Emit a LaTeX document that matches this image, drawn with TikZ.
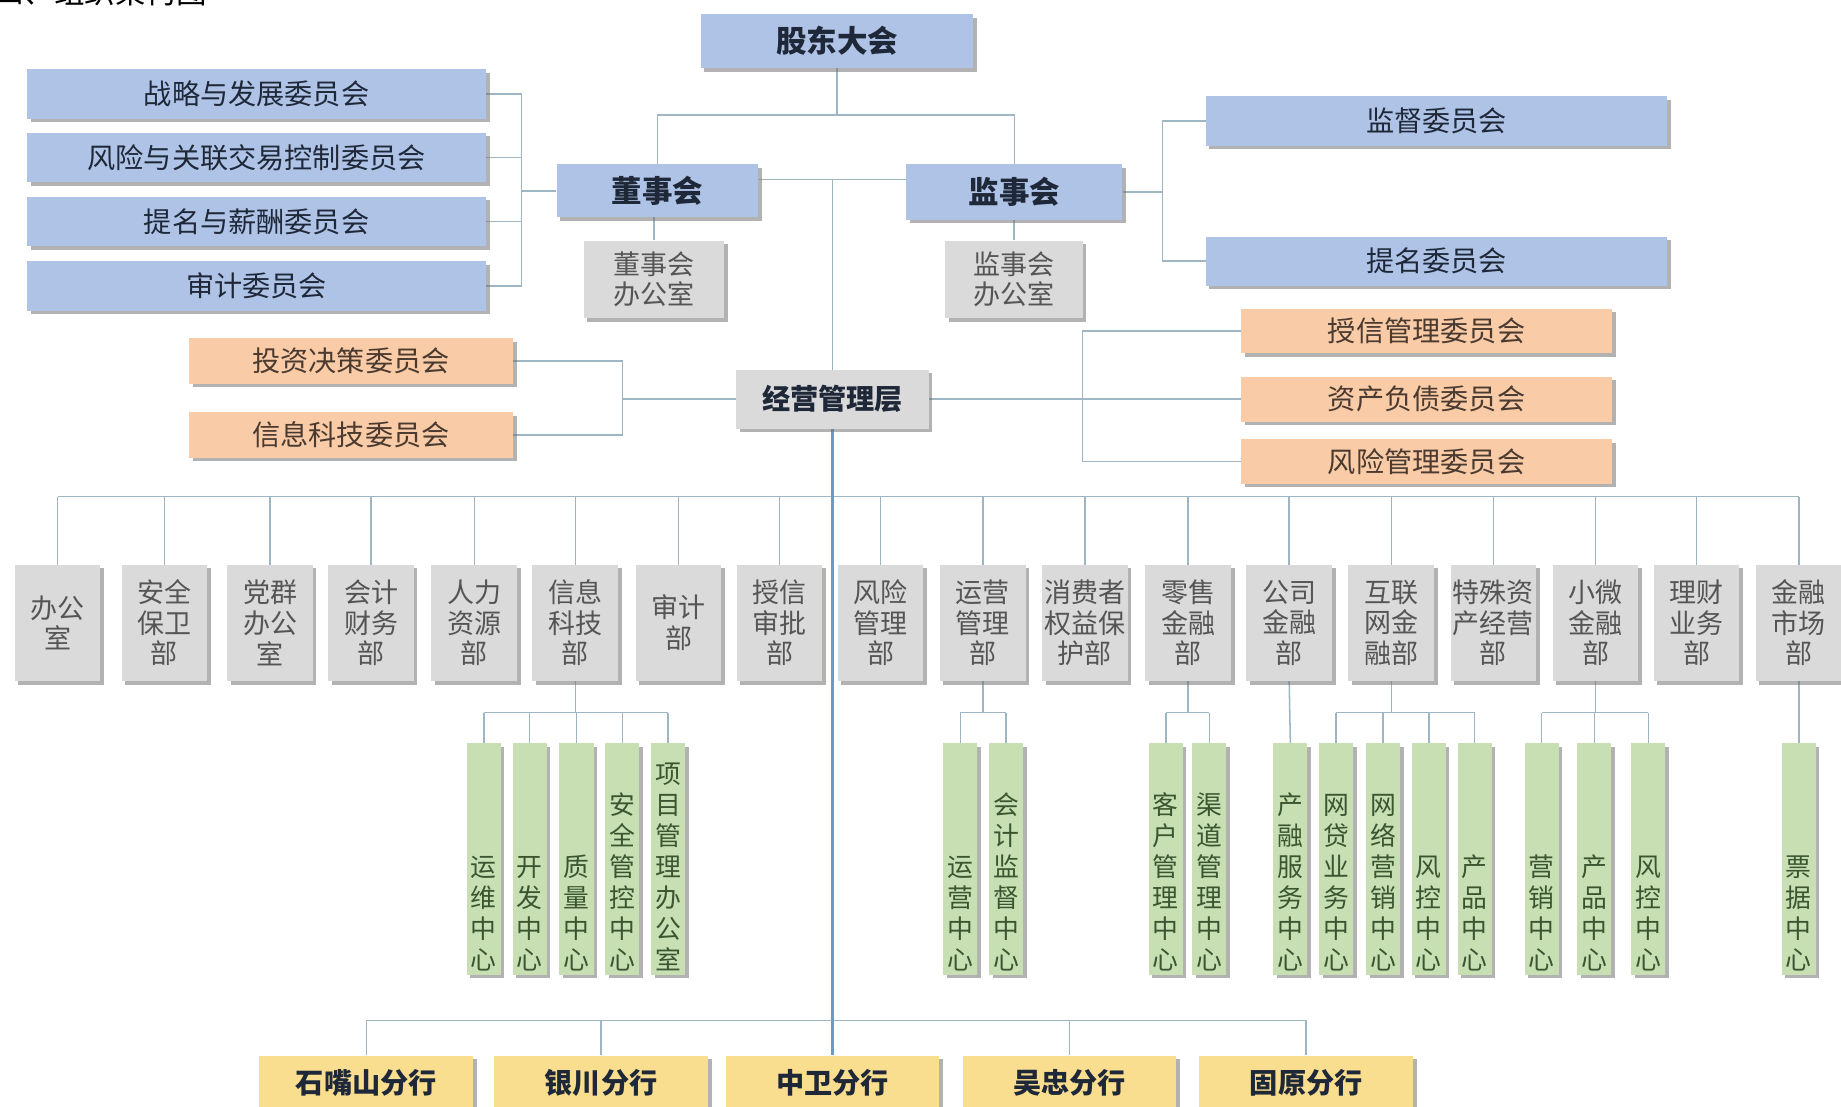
\documentclass[tikz,border=0pt]{standalone}
\usepackage{fontspec}
\newfontfamily\cjk{Noto Sans CJK SC}
\usetikzlibrary{shadows}
\definecolor{bluebox}{HTML}{AEC3E6}
\definecolor{graybox}{HTML}{DADADA}
\definecolor{orangebox}{HTML}{F9CBA6}
\definecolor{greenbox}{HTML}{C8DFB4}
\definecolor{yellowbox}{HTML}{F9DE90}
\definecolor{linkcol}{HTML}{9EB6C4}
\definecolor{mainlinkcol}{HTML}{6C9AC6}
\definecolor{navytext}{HTML}{1F2838}
\definecolor{graytext}{HTML}{555555}
\definecolor{greentext}{HTML}{3A5530}
\definecolor{browntext}{HTML}{4A3A30}
\pgfdeclarelayer{bg}
\pgfsetlayers{bg,main}
\newcommand\gtx[1]{\begin{minipage}[c][190pt][b]{28pt}\centering #1\end{minipage}}
\begin{document}
\begin{tikzpicture}[x=1pt,y=-1pt,
  base/.style={rectangle, inner sep=0pt, align=center,
    drop shadow={shadow xshift=3pt, shadow yshift=-3pt, fill=black!55, opacity=0.55}},
  bluebig/.style={base, fill=bluebox, text=navytext, font=\cjk\bfseries\fontsize{26}{28}\selectfont},
  bluec/.style={base, fill=bluebox, text=navytext, font=\cjk\fontsize{24}{26}\selectfont},
  grayoff/.style={base, fill=graybox, text=graytext, font=\cjk\fontsize{23}{25}\selectfont},
  graymgr/.style={base, fill=graybox, text=navytext, font=\cjk\bfseries\fontsize{24}{26}\selectfont},
  orangec/.style={base, fill=orangebox, text=browntext, font=\cjk\fontsize{24}{26}\selectfont},
  dept/.style={base, fill=graybox, text=graytext, minimum width=73, minimum height=99, font=\cjk\fontsize{23}{26}\selectfont},
  gbox/.style={base, fill=greenbox, text=greentext, minimum width=29, minimum height=197, font=\cjk\fontsize{22}{26.5}\selectfont},
  branch/.style={base, fill=yellowbox, text=navytext, minimum width=182, minimum height=46, font=\cjk\bfseries\fontsize{24}{26}\selectfont},
  link/.style={draw=linkcol, line width=1.3pt},
  mainlink/.style={draw=mainlinkcol, line width=1.8pt}]
\useasboundingbox (0,0) rectangle (1568,942);

% title (partly cut off at the top, as in the source)
\node[anchor=base west, inner sep=0pt, font=\cjk\fontsize{26}{26}\selectfont] (title) at (-6,3) {四、组织架构图};

% top level
\node[bluebig, minimum width=232, minimum height=46] (gd) at (713,35) {股东大会};
\node[bluebig, minimum width=172, minimum height=45] (dsh) at (560,162.5) {董事会};
\node[bluebig, minimum width=184, minimum height=47] (jsh) at (864,163.5) {监事会};
\node[grayoff, minimum width=120, minimum height=66] (dshb) at (557,238) {董事会\\办公室};
\node[grayoff, minimum width=117, minimum height=66] (jshb) at (863.5,238) {监事会\\办公室};

% board committees
\node[bluec, minimum width=391, minimum height=42] (c1) at (218.5,80) {战略与发展委员会};
\node[bluec, minimum width=391, minimum height=42] (c2) at (218.5,134) {风险与关联交易控制委员会};
\node[bluec, minimum width=391, minimum height=42] (c3) at (218.5,188.5) {提名与薪酬委员会};
\node[bluec, minimum width=391, minimum height=42] (c4) at (218.5,243.5) {审计委员会};

% supervisory committees
\node[bluec, minimum width=393, minimum height=42] (r1) at (1223.5,103) {监督委员会};
\node[bluec, minimum width=393, minimum height=42] (r2) at (1223.5,222.5) {提名委员会};

% management
\node[graymgr, minimum width=164, minimum height=50] (jy) at (709,340) {经营管理层};
\node[orangec, minimum width=276, minimum height=39] (o1) at (299,307.5) {投资决策委员会};
\node[orangec, minimum width=276, minimum height=39] (o2) at (299,370.5) {信息科技委员会};
\node[orangec, minimum width=316, minimum height=38] (p1) at (1215,282) {授信管理委员会};
\node[orangec, minimum width=316, minimum height=38] (p2) at (1215,340) {资产负债委员会};
\node[orangec, minimum width=316, minimum height=38] (p3) at (1215,393) {风险管理委员会};

% departments
\foreach \i/\cx/\t in {
  1/49/{办公\\室}, 2/140/{安全\\保卫\\部}, 3/230/{党群\\办公\\室}, 4/316/{会计\\财务\\部},
  5/404/{人力\\资源\\部}, 6/490/{信息\\科技\\部}, 7/578/{审计\\部}, 8/664/{授信\\审批\\部},
  9/750/{风险\\管理\\部}, 10/837/{运营\\管理\\部}, 11/924/{消费者\\权益保\\护部},
  12/1012/{零售\\金融\\部}, 13/1098/{公司\\金融\\部}, 14/1185/{互联\\网金\\融部},
  15/1272/{特殊资\\产经营\\部}, 16/1359/{小微\\金融\\部}, 17/1445/{理财\\业务\\部},
  18/1532/{金融\\市场\\部}}
  \node[dept] (d\i) at (\cx,530.5) {\t};

% centres
\foreach \n/\cx/\t in {
  g6a/412/{运\\维\\中\\心}, g6b/451/{开\\发\\中\\心}, g6c/491/{质\\量\\中\\心},
  g6d/530/{安\\全\\管\\控\\中\\心}, g6e/569/{项\\目\\管\\理\\办\\公\\室},
  g10a/818/{运\\营\\中\\心}, g10b/857/{会\\计\\监\\督\\中\\心},
  g12a/993/{客\\户\\管\\理\\中\\心}, g12b/1030/{渠\\道\\管\\理\\中\\心},
  g13/1099/{产\\融\\服\\务\\中\\心},
  g14a/1138/{网\\贷\\业\\务\\中\\心}, g14b/1178/{网\\络\\营\\销\\中\\心},
  g14c/1217/{风\\控\\中\\心}, g14d/1256/{产\\品\\中\\心},
  g16a/1313/{营\\销\\中\\心}, g16b/1358/{产\\品\\中\\心}, g16c/1404/{风\\控\\中\\心},
  g18/1532/{票\\据\\中\\心}}
  \node[gbox] (\n) at (\cx,731.5) {\gtx{\t}};

% branches
\node[branch] (b1) at (312,922) {石嘴山分行};
\node[branch] (b2) at (512,922) {银川分行};
\node[branch] (b3) at (709,922) {中卫分行};
\node[branch] (b4) at (911,922) {吴忠分行};
\node[branch] (b5) at (1112.5,922) {固原分行};

\begin{pgfonlayer}{bg}
  \fill[white] (0,0) rectangle (1568,942);
  \coordinate (t1) at (713,98);
  \draw[link] (gd.south) -- (t1);
  \draw[link] (dsh.north) |- (t1) -| (jsh.north);
  \coordinate (h1) at (709,153);
  \draw[link] (dsh.east |- h1) -- (jsh.west |- h1);
  \draw[link] (h1) -- (jy.north);
  \draw[link] (dshb.north) -- (dshb.north |- dsh.south);
  \draw[link] (jshb.north) -- (jshb.north |- jsh.south);
  \coordinate (lb) at (444,162.5);
  \foreach \c in {c1,c2,c3,c4} \draw[link] (\c.east) -| (lb);
  \draw[link] (lb) -- (dsh.west);
  \coordinate (rb) at (990,163.5);
  \draw[link] (jsh.east) -- (rb);
  \draw[link] (r1.west) -| (rb);
  \draw[link] (r2.west) -| (rb);
  \coordinate (ob) at (530,340);
  \draw[link] (o1.east) -| (ob);
  \draw[link] (o2.east) -| (ob);
  \draw[link] (ob) -- (jy.west);
  \coordinate (pb) at (922,340);
  \draw[link] (jy.east) -- (p2.west);
  \draw[link] (p1.west) -| (pb);
  \draw[link] (p3.west) -| (pb);
  % department bus
  \coordinate (L1) at (0,423);
  \draw[link] (d1.north |- L1) -- (d18.north |- L1);
  \foreach \i in {1,...,18} \draw[link] (d\i.north) -- (d\i.north |- L1);
  % centre buses
  \coordinate (L2) at (0,607);
  \draw[link] (d6.south) -- (d6.south |- L2);
  \draw[link] (g6a.north |- L2) -- (g6e.north |- L2);
  \foreach \n in {g6a,g6b,g6c,g6d,g6e} \draw[link] (\n.north) -- (\n.north |- L2);
  \draw[link] (d10.south) -- (d10.south |- L2);
  \draw[link] (g10a.north |- L2) -- (g10b.north |- L2);
  \foreach \n in {g10a,g10b} \draw[link] (\n.north) -- (\n.north |- L2);
  \draw[link] (d12.south) -- (d12.south |- L2);
  \draw[link] (g12a.north |- L2) -- (g12b.north |- L2);
  \foreach \n in {g12a,g12b} \draw[link] (\n.north) -- (\n.north |- L2);
  \draw[link] (d13.south) -- (g13.north);
  \draw[link] (d14.south) -- (d14.south |- L2);
  \draw[link] (g14a.north |- L2) -- (g14d.north |- L2);
  \foreach \n in {g14a,g14b,g14c,g14d} \draw[link] (\n.north) -- (\n.north |- L2);
  \draw[link] (d16.south) -- (d16.south |- L2);
  \draw[link] (g16a.north |- L2) -- (g16c.north |- L2);
  \foreach \n in {g16a,g16b,g16c} \draw[link] (\n.north) -- (\n.north |- L2);
  \draw[link] (d18.south) -- (g18.north);
  % branch bus
  \coordinate (L3) at (0,869);
  \draw[link] (b1.north |- L3) -- (b5.north |- L3);
  \foreach \n in {b1,b2,b4,b5} \draw[link] (\n.north) -- (\n.north |- L3);
  % main trunk
  \draw[mainlink] (jy.south) -- (b3.north);
\end{pgfonlayer}
\end{tikzpicture}
\end{document}
